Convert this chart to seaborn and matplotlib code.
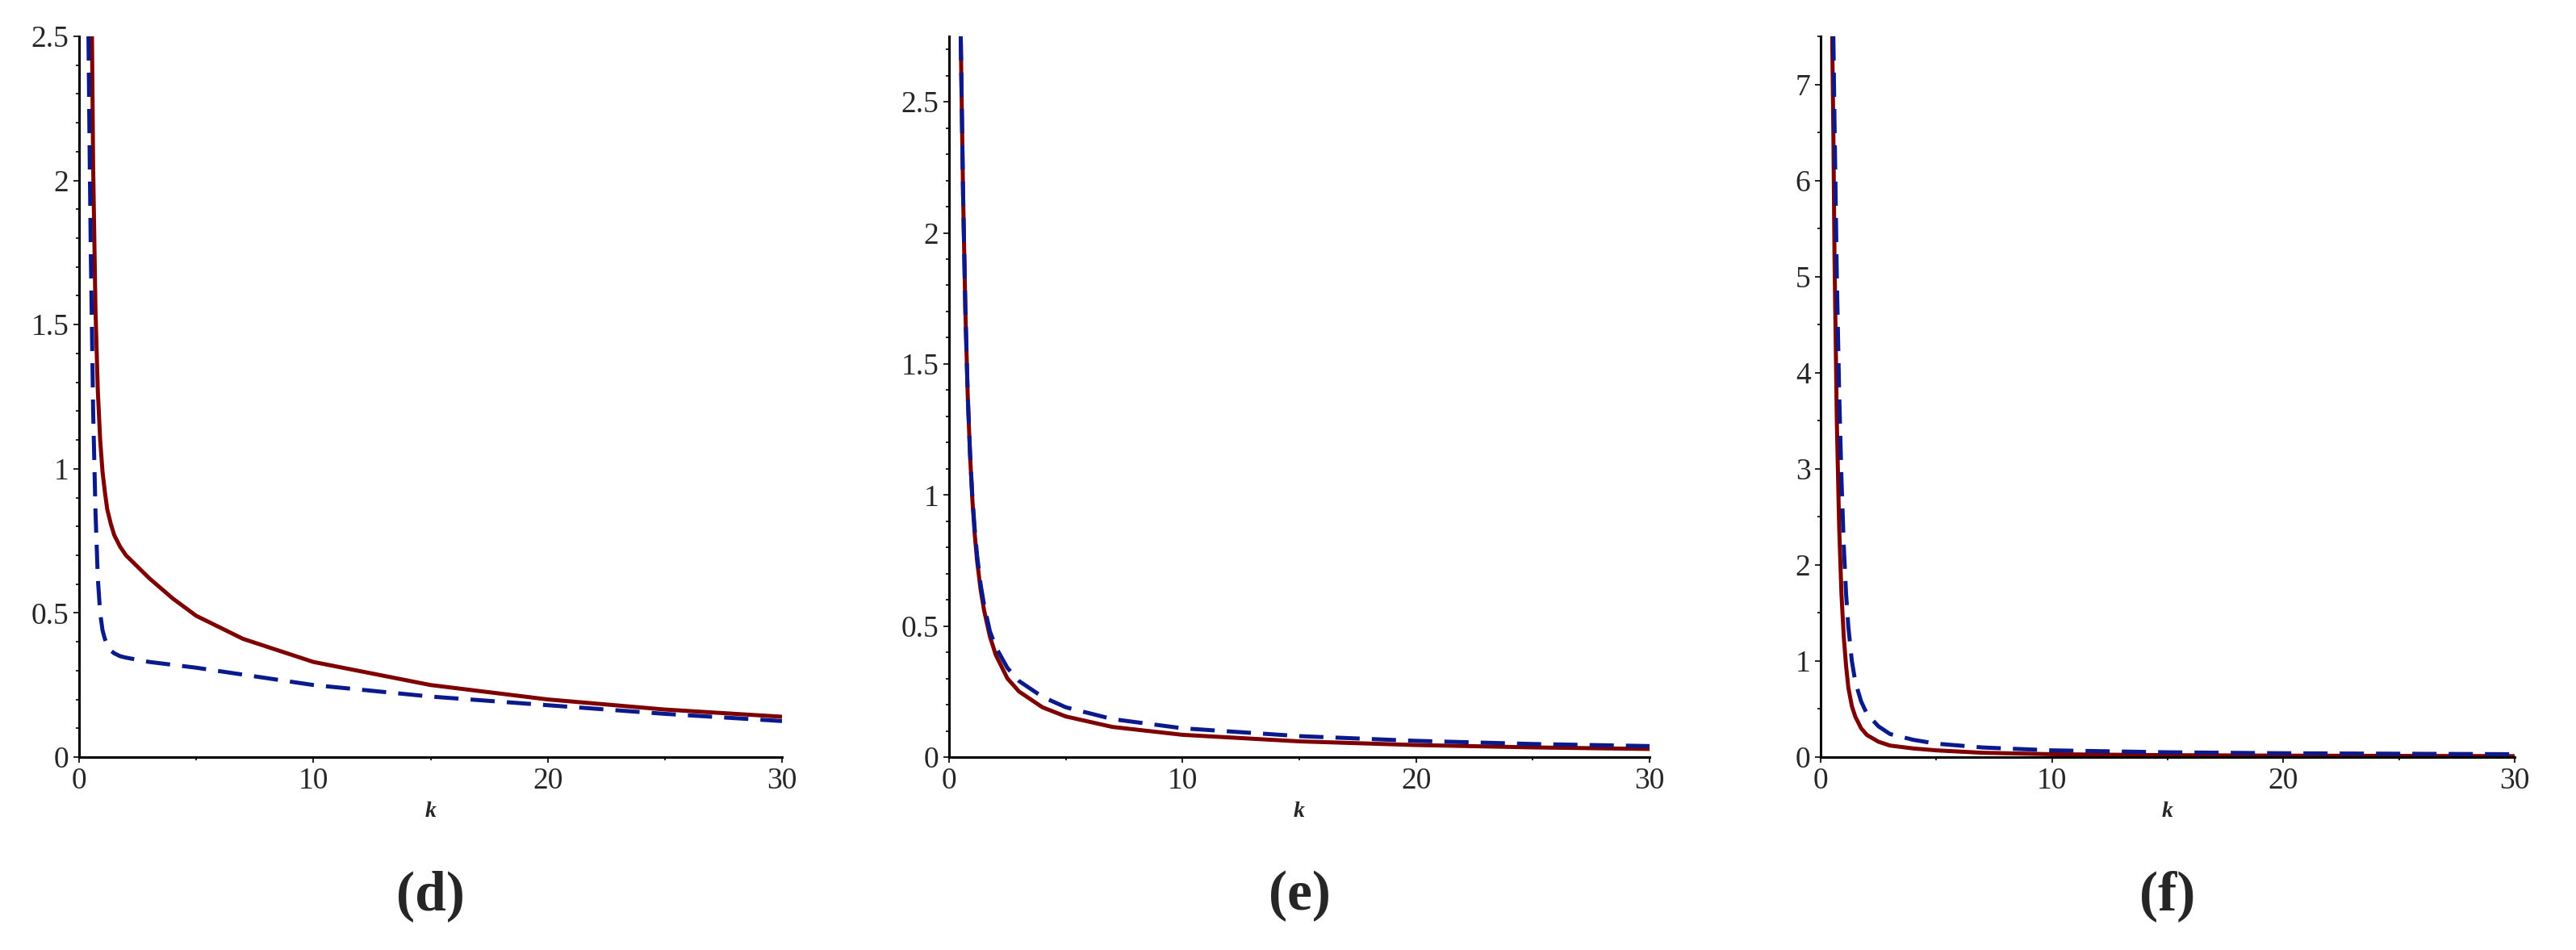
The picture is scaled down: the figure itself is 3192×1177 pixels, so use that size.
import matplotlib
matplotlib.use("Agg")
import matplotlib.pyplot as plt
import seaborn as sns
from matplotlib.ticker import MultipleLocator

sns.set_theme(style="white")
plt.rcParams['font.family'] = ['Liberation Serif', 'DejaVu Serif']

# Panel (d)
d_red_k = [0.55, 0.6, 0.7, 0.8, 0.9, 1.0, 1.1, 1.2, 1.35, 1.5, 1.75, 2, 2.5, 3, 4, 5, 7, 10, 15, 20, 25, 30]
d_red_v = [2.5, 2.05, 1.55, 1.27, 1.1, 0.99, 0.92, 0.86, 0.81, 0.77, 0.73, 0.70, 0.66, 0.62, 0.55, 0.49, 0.41, 0.33, 0.25, 0.20, 0.165, 0.14]
d_blue_k = [0.4, 0.45, 0.5, 0.6, 0.7, 0.8, 0.9, 1.0, 1.1, 1.2, 1.35, 1.5, 1.75, 2, 3, 5, 10, 15, 20, 25, 30]
d_blue_v = [2.5, 2.1, 1.75, 1.2, 0.85, 0.62, 0.5, 0.44, 0.41, 0.39, 0.37, 0.36, 0.35, 0.345, 0.33, 0.31, 0.25, 0.21, 0.18, 0.15, 0.125]
# Panel (e)
e_red_k = [0.5, 0.55, 0.6, 0.7, 0.8, 0.9, 1.0, 1.1, 1.2, 1.35, 1.5, 1.75, 2, 2.5, 3, 4, 5, 7, 10, 15, 20, 25, 30]
e_red_v = [2.75, 2.45, 2.15, 1.7, 1.38, 1.15, 0.98, 0.85, 0.75, 0.64, 0.56, 0.46, 0.39, 0.30, 0.25, 0.19, 0.155, 0.115, 0.085, 0.06, 0.046, 0.037, 0.031]
e_blue_k = [0.5, 0.55, 0.6, 0.7, 0.8, 0.9, 1.0, 1.1, 1.2, 1.35, 1.5, 1.75, 2, 2.5, 3, 4, 5, 7, 10, 15, 20, 25, 30]
e_blue_v = [2.75, 2.45, 2.15, 1.7, 1.38, 1.16, 0.99, 0.87, 0.77, 0.66, 0.58, 0.48, 0.42, 0.34, 0.29, 0.23, 0.19, 0.145, 0.11, 0.08, 0.062, 0.05, 0.042]
# Panel (f)
f_red_k = [0.5, 0.55, 0.6, 0.7, 0.8, 0.9, 1.0, 1.1, 1.2, 1.35, 1.5, 1.75, 2, 2.5, 3, 4, 5, 7, 10, 15, 20, 30]
f_red_v = [7.5, 6.5, 5.2, 3.5, 2.4, 1.7, 1.25, 0.95, 0.72, 0.53, 0.42, 0.3, 0.23, 0.16, 0.12, 0.09, 0.07, 0.045, 0.03, 0.02, 0.015, 0.01]
f_blue_k = [0.55, 0.6, 0.7, 0.8, 0.9, 1.0, 1.1, 1.2, 1.35, 1.5, 1.75, 2, 2.5, 3, 4, 5, 7, 10, 15, 20, 30]
f_blue_v = [7.5, 6.6, 5.0, 3.8, 2.9, 2.2, 1.7, 1.35, 1.0, 0.78, 0.58, 0.45, 0.32, 0.24, 0.18, 0.14, 0.1, 0.07, 0.05, 0.04, 0.03]

panels = [
    ("(d)", d_red_k, d_red_v, d_blue_k, d_blue_v, 2.5, 0.5, 0.1),
    ("(e)", e_red_k, e_red_v, e_blue_k, e_blue_v, 2.75, 0.5, 0.1),
    ("(f)", f_red_k, f_red_v, f_blue_k, f_blue_v, 7.5, 1, 0.5),
]
lefts = [98, 1176, 2256]
rights = [969, 2044, 3116]
W, H = 3192, 1177
fig = plt.figure(figsize=(W / 100, H / 100), dpi=100)
RED = "#7f0000"
BLUE = "#0a1a8c"
for (lab, rk, rv, bk, bv, ymax, ymaj, ymin), l, r in zip(panels, lefts, rights):
    ax = fig.add_axes([l / W, 1 - 938 / H, (r - l) / W, (938 - 45) / H])
    sns.lineplot(x=rk, y=rv, ax=ax, color=RED, lw=3.6, sort=False)
    sns.lineplot(x=bk, y=bv, ax=ax, color=BLUE, lw=3.6, sort=False, linestyle=(0, (6, 3)))
    ax.set_xlim(0, 30)
    ax.set_ylim(0, ymax)
    ax.xaxis.set_major_locator(MultipleLocator(10))
    ax.xaxis.set_minor_locator(MultipleLocator(5))
    ax.yaxis.set_major_locator(MultipleLocator(ymaj))
    ax.yaxis.set_minor_locator(MultipleLocator(ymin))
    ax.tick_params(which='both', direction='out', left=True, bottom=True, labelsize=27, width=1.2, color='black', pad=4)
    ax.tick_params(which='major', length=5)
    ax.tick_params(which='minor', length=3)
    ax.yaxis.set_major_formatter(matplotlib.ticker.FuncFormatter(lambda v, p: f"{v:g}"))
    for s in ['top', 'right']:
        ax.spines[s].set_visible(False)
    for s in ['left', 'bottom']:
        ax.spines[s].set_color('black')
        ax.spines[s].set_linewidth(2.2)
    ax.set_xlabel("k", fontsize=20, style='italic', fontweight='bold', labelpad=6)
    ax.set_ylabel("")
    fig.text((l + r) / 2 / W, 1 - 1110 / H, lab, fontsize=50, fontweight='bold', ha='center', va='center')

fig.savefig("out.png", dpi=100, facecolor="white")
